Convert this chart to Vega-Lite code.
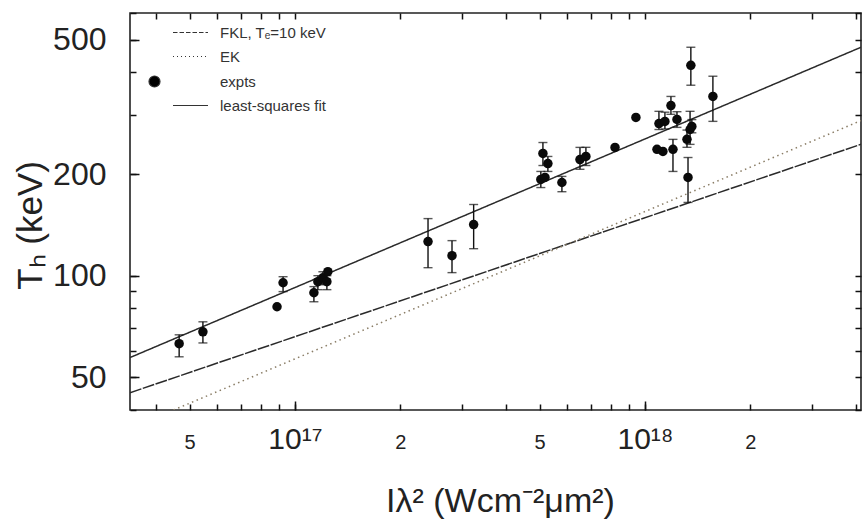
{
  "$schema": "https://vega.github.io/schema/vega-lite/v6.json",
  "width": 731,
  "height": 397,
  "autosize": "none",
  "padding": {"left": 130, "top": 13, "right": 1, "bottom": 112},
  "background": "white",
  "config": {
    "font": "Liberation Sans",
    "view": {"stroke": "#222", "strokeWidth": 1.6},
    "axis": {"grid": false, "domain": false, "labelColor": "#222", "titleColor": "#222", "titleFontWeight": "normal"}
  },
  "datasets": {
    "lines": [
      {"series": "FKL", "I": 3.38e16, "T": 45},
      {"series": "FKL", "I": 4.14e18, "T": 245},
      {"series": "EK", "I": 4.5e16, "T": 40},
      {"series": "EK", "I": 4.14e18, "T": 288},
      {"series": "fit", "I": 3.38e16, "T": 57.2},
      {"series": "fit", "I": 4.14e18, "T": 475}
    ],
    "pts": [
      {"I": 4.67e16, "T": 62.9, "lo": 57.5, "hi": 66.8},
      {"I": 5.46e16, "T": 68.2, "lo": 63.2, "hi": 73.0},
      {"I": 8.89e16, "T": 80.9},
      {"I": 9.25e16, "T": 95.3, "lo": 89.7, "hi": 99.3},
      {"I": 1.133e17, "T": 89.0, "lo": 83.7, "hi": 92.8},
      {"I": 1.163e17, "T": 96.0, "lo": 90.9, "hi": 100},
      {"I": 1.202e17, "T": 98.6, "lo": 94.0, "hi": 102.7},
      {"I": 1.234e17, "T": 96.0, "lo": 90.9, "hi": 100},
      {"I": 1.242e17, "T": 102.8},
      {"I": 2.40e17, "T": 126.2, "lo": 105.6, "hi": 147.6},
      {"I": 2.81e17, "T": 114.6, "lo": 102.1, "hi": 127.0},
      {"I": 3.24e17, "T": 141.7, "lo": 120.2, "hi": 162.5},
      {"I": 5.04e17, "T": 192.8, "lo": 182.4, "hi": 203.6},
      {"I": 5.18e17, "T": 195.5},
      {"I": 5.11e17, "T": 230.2, "lo": 212, "hi": 248},
      {"I": 5.28e17, "T": 214.8, "lo": 203.6, "hi": 225.5},
      {"I": 5.79e17, "T": 188.8, "lo": 177.3, "hi": 196.8},
      {"I": 6.52e17, "T": 220.8, "lo": 206.6, "hi": 239.9},
      {"I": 6.78e17, "T": 225.5, "lo": 212, "hi": 240},
      {"I": 8.21e17, "T": 239.9},
      {"I": 9.42e17, "T": 294.3},
      {"I": 1.082e18, "T": 236.7},
      {"I": 1.125e18, "T": 233.4},
      {"I": 1.096e18, "T": 282.3, "lo": 271, "hi": 306.8},
      {"I": 1.140e18, "T": 286.4, "lo": 272, "hi": 305},
      {"I": 1.186e18, "T": 319.0, "lo": 300.6, "hi": 339.6},
      {"I": 1.202e18, "T": 236.7, "lo": 203.6, "hi": 253.4},
      {"I": 1.234e18, "T": 290.4, "lo": 275, "hi": 306},
      {"I": 1.318e18, "T": 253.4, "lo": 240, "hi": 270},
      {"I": 1.345e18, "T": 271, "lo": 244.9, "hi": 306.8},
      {"I": 1.327e18, "T": 195.5, "lo": 164.8, "hi": 223.9},
      {"I": 1.361e18, "T": 276.7, "lo": 265, "hi": 290},
      {"I": 1.352e18, "T": 419.9, "lo": 366.6, "hi": 475},
      {"I": 1.563e18, "T": 339.6, "lo": 286.5, "hi": 389.8}
    ],
    "keys": [
      {"series": "FKL, Tₑ=10 keV"},
      {"series": "EK"},
      {"series": "expts"},
      {"series": "least-squares fit"}
    ]
  },
  "layer": [
    {
      "data": {"name": "lines"},
      "mark": {"type": "line", "strokeWidth": 1.5, "clip": true},
      "encoding": {
        "x": {
          "field": "I", "type": "quantitative",
          "scale": {"type": "log", "domain": [3.38e16, 4.14e18], "nice": false},
          "axis": {
            "orient": "bottom",
            "ticks": true,
            "offset": -6,
            "tickSize": 6,
            "tickColor": "#111",
            "tickWidth": 1.5,
            "values": [4e16, 5e16, 6e16, 7e16, 8e16, 9e16, 1e17, 2e17, 3e17, 4e17, 5e17, 6e17, 7e17, 8e17, 9e17, 1e18, 2e18, 3e18, 4e18],
            "labelExpr": "datum.value == 1e17 ? '10¹⁷' : datum.value == 1e18 ? '10¹⁸' : (datum.value == 5e16 || datum.value == 5e17) ? '5' : (datum.value == 2e17 || datum.value == 2e18) ? '2' : ''",
            "labelFontSize": {"condition": {"test": "datum.value == 1e17 || datum.value == 1e18", "value": 30}, "value": 20},
            "labelBaseline": "alphabetic",
            "labelPadding": 38,
            "title": "Iλ² (Wcm⁻²μm²)",
            "titleFontSize": 34,
            "titleX": 370,
            "titleY": 107,
            "titleAlign": "center",
            "titleBaseline": "alphabetic"
          }
        },
        "y": {
          "field": "T", "type": "quantitative",
          "scale": {"type": "log", "domain": [40, 600], "nice": false},
          "axis": {
            "orient": "left",
            "ticks": true,
            "offset": -6,
            "tickSize": 6,
            "tickColor": "#111",
            "tickWidth": 1.5,
            "values": [40, 50, 60, 70, 80, 90, 100, 200, 300, 400, 500, 600],
            "labelExpr": "indexof([50,100,200,500], datum.value) >= 0 ? datum.label : ''",
            "labelFontSize": 32,
            "labelPadding": 24,
            "labelBaseline": "middle",
            "title": "Tₕ (keV)",
            "titleFontSize": 35,
            "titleAngle": -90,
            "titleX": -106,
            "titleY": 212,
            "titleAlign": "center",
            "titleBaseline": "middle"
          }
        },
        "strokeDash": {
          "field": "series", "type": "nominal",
          "scale": {"domain": ["FKL", "EK", "fit"], "range": [[12, 1.5], [1.5, 3.5], [1, 0]]},
          "legend": null
        },
        "color": {
          "field": "series", "type": "nominal",
          "scale": {"domain": ["FKL", "EK", "fit"], "range": ["#2a2a2a", "#8a7d66", "#2a2a2a"]},
          "legend": null
        }
      }
    },
    {
      "data": {"name": "pts"},
      "transform": [{"filter": "isValid(datum.lo)"}],
      "mark": {"type": "errorbar", "ticks": {"size": 9, "thickness": 1.4, "color": "#111"}, "rule": {"strokeWidth": 1.4, "color": "#111"}},
      "encoding": {
        "x": {
          "field": "I", "type": "quantitative",
          "axis": {"orient": "bottom", "ticks": true, "offset": -9, "tickSize": 9, "tickColor": "#111", "tickWidth": 1.5, "values": [1e17, 1e18], "labels": false, "title": null}
        },
        "y": {
          "field": "hi", "type": "quantitative",
          "axis": {"orient": "left", "ticks": true, "offset": -9, "tickSize": 9, "tickColor": "#111", "tickWidth": 1.5, "values": [50, 100, 200, 500], "labels": false, "title": null}
        },
        "y2": {"field": "lo"}
      }
    },
    {
      "data": {"name": "pts"},
      "mark": {"type": "point", "shape": "circle", "filled": true, "size": 90, "color": "#0a0a0a", "opacity": 1},
      "encoding": {
        "x": {
          "field": "I", "type": "quantitative",
          "axis": {
            "orient": "top", "labels": false, "title": null, "ticks": true,
            "offset": -6, "tickSize": 6, "tickColor": "#111", "tickWidth": 1.5,
            "values": [4e16, 5e16, 6e16, 7e16, 8e16, 9e16, 1e17, 2e17, 3e17, 4e17, 5e17, 6e17, 7e17, 8e17, 9e17, 1e18, 2e18, 3e18, 4e18]
          }
        },
        "y": {
          "field": "T", "type": "quantitative",
          "axis": {
            "orient": "right", "labels": false, "title": null, "ticks": true,
            "offset": -6, "tickSize": 6, "tickColor": "#111", "tickWidth": 1.5,
            "values": [40, 50, 60, 70, 80, 90, 100, 200, 300, 400, 500, 600]
          }
        }
      }
    },
    {
      "data": {"name": "keys"},
      "mark": {"type": "point", "filled": true, "size": 0, "fill": "#000", "stroke": "#333", "strokeWidth": 1.2, "opacity": 1},
      "encoding": {
        "shape": {
          "field": "series", "type": "nominal",
          "scale": {
            "domain": ["FKL, Tₑ=10 keV", "EK", "expts", "least-squares fit"],
            "range": [
              "M-3.5,0H-2.6M-2.2,0H-1.3M-0.9,0H0M0.4,0H1.3M1.7,0H2.6M3,0H3.5",
              "M-3.5,0H-3.3M-2.7,0H-2.5M-1.9,0H-1.7M-1.1,0H-0.9M-0.3,0H-0.1M0.5,0H0.7M1.3,0H1.5M2.1,0H2.3M2.9,0H3.1",
              "M-8.3,0A1.1,1.1 0 1,0 -6.1,0A1.1,1.1 0 1,0 -8.3,0Z",
              "M-3.5,0H3.5"
            ]
          },
          "legend": {
            "orient": "none",
            "legendX": 53,
            "legendY": 12,
            "title": null,
            "padding": 0,
            "symbolSize": 100,
            "symbolOpacity": 1,
            "symbolFillColor": "#000",
            "labelOffset": 22,
            "labelFontSize": 15,
            "labelColor": "#333",
            "rowPadding": 8,
            "symbolStrokeWidth": 1.2
          }
        }
      }
    }
  ],
  "resolve": {"axis": {"x": "independent", "y": "independent"}}
}
